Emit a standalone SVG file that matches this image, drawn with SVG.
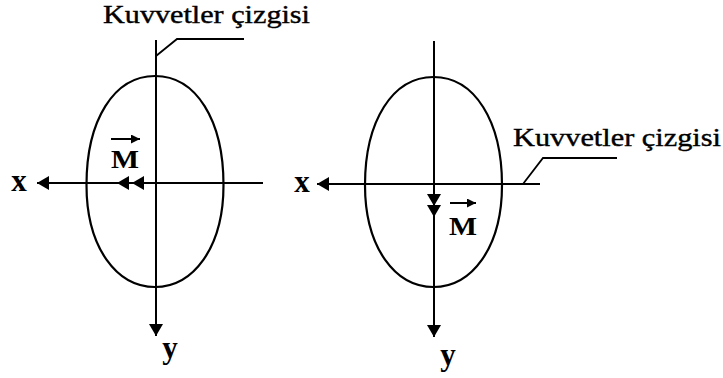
<svg xmlns="http://www.w3.org/2000/svg" width="723" height="378" viewBox="0 0 723 378">
<style>
.bg{fill:#fff}
.ax{stroke:#000;stroke-width:2;fill:none}
.ld{stroke:#000;stroke-width:1.8;fill:none}
.el{stroke:#000;stroke-width:2.2;fill:none}
.lbl{font-family:"Liberation Serif",serif;font-size:26px;fill:#000;stroke:#000;stroke-width:0.4}
.sym{font-family:"Liberation Serif",serif;font-size:26px;font-weight:bold;fill:#000}
.xy{font-family:"Liberation Serif",serif;font-size:31px;font-weight:bold;fill:#000}
.vec{stroke:#000;stroke-width:2;fill:none}
</style>
<defs>
<marker id="ah" markerUnits="userSpaceOnUse" markerWidth="12" markerHeight="14" refX="12" refY="7" orient="auto">
<path d="M0,0 L12,7 L0,14 z" fill="#000"/>
</marker>
<marker id="ahs" markerUnits="userSpaceOnUse" markerWidth="9" markerHeight="9" refX="9" refY="4.5" orient="auto">
<path d="M0,0 L9,4.5 L0,9 z" fill="#000"/>
</marker>
</defs>
<rect class="bg" x="0" y="0" width="723" height="378"/>

<g id="left-ellipse"><path class="el" d="M155,76 C196,76 223.5,120 223.5,185 C223.5,248 193,287 155,287 C117,287 86.5,248 86.5,185 C86.5,120 114,76 155,76 Z"/></g>
<g id="right-ellipse"><path class="el" d="M433.5,77 C474.5,77 502,121 502,185 C502,248 471.5,287 433.5,287 C395.5,287 365,248 365,185 C365,121 392.5,77 433.5,77 Z"/></g>

<g id="connectors">
<path class="ax" d="M263,183 L37,183" marker-end="url(#ah)"/>
<path class="ax" d="M156,40 L156,336" marker-end="url(#ah)"/>
<path class="ax" d="M156,183 L132,183" marker-end="url(#ah)"/>
<path class="ax" d="M132,183 L117,183" marker-end="url(#ah)"/>
<path class="ld" d="M156,56 L177,39 L244,39"/>
<path class="vec" d="M111,139 L140,139" marker-end="url(#ahs)"/>

<path class="ax" d="M540,184 L317,184" marker-end="url(#ah)"/>
<path class="ax" d="M434,41 L434,337" marker-end="url(#ah)"/>
<path class="ax" d="M434,184 L434,206" marker-end="url(#ah)"/>
<path class="ax" d="M434,206 L434,217" marker-end="url(#ah)"/>
<path class="ld" d="M523,184 L543,158 L617,158"/>
<path class="vec" d="M450,203 L476,203" marker-end="url(#ahs)"/>
</g>

<g id="left-labels">
<text class="lbl" x="103" y="23" textLength="207" lengthAdjust="spacingAndGlyphs">Kuvvetler çizgisi</text>
<text class="sym" x="111" y="168" textLength="28" lengthAdjust="spacingAndGlyphs">M</text>
<text class="xy" x="19" y="191" text-anchor="middle">x</text>
<text class="xy" x="170" y="358" text-anchor="middle">y</text>
</g>
<g id="right-labels">
<text class="lbl" x="513" y="146" textLength="208" lengthAdjust="spacingAndGlyphs">Kuvvetler çizgisi</text>
<text class="sym" x="449" y="235" textLength="28" lengthAdjust="spacingAndGlyphs">M</text>
<text class="xy" x="302" y="192" text-anchor="middle">x</text>
<text class="xy" x="448" y="365" text-anchor="middle">y</text>
</g>
</svg>
